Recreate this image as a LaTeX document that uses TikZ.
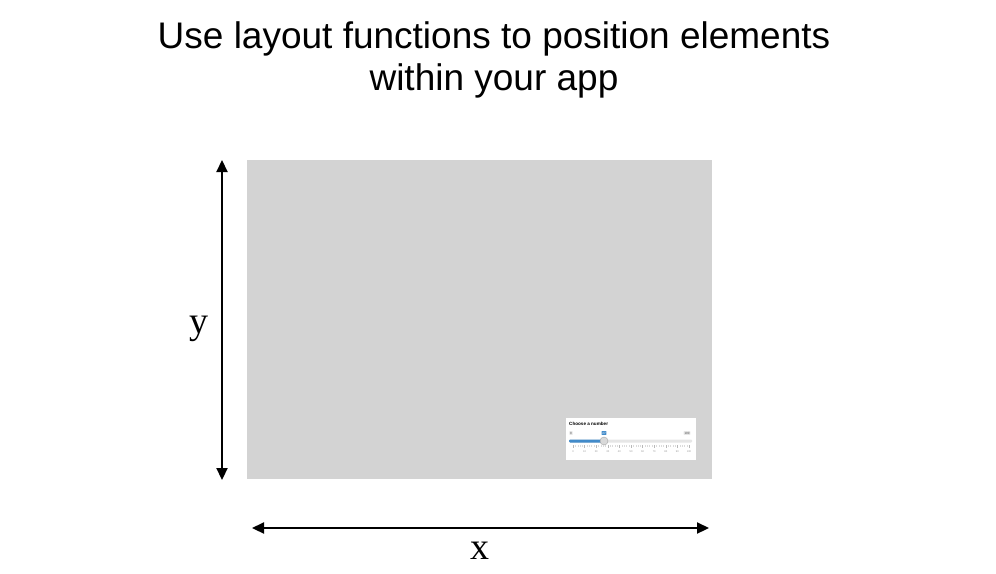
\documentclass[tikz,border=0pt]{standalone}
\usepackage{fontspec}
\setmainfont{Liberation Serif}
\newfontfamily\titlefont{Liberation Sans}
\usetikzlibrary{arrows.meta}
\definecolor{panelgray}{HTML}{D3D3D3}
\definecolor{sliderblue}{HTML}{428BCA}
\definecolor{trackgray}{HTML}{E6E6E6}
\definecolor{tickgray}{HTML}{999999}
\tikzset{
  dimarrow/.style={line width=2.2pt, {Triangle[length=12pt,width=11pt]}-{Triangle[length=12pt,width=11pt]}},
  axislabel/.style={font=\fontsize{38}{40}\selectfont, anchor=base, inner sep=0pt},
  ticklabel/.style={font=\titlefont\fontsize{2.6}{3}\selectfont, text=tickgray, anchor=center, inner sep=0pt},
  tagbox/.style={font=\titlefont\fontsize{3}{3}\selectfont, inner sep=0.8pt, anchor=center, rounded corners=0.5pt}
}
\begin{document}
\begin{tikzpicture}[x=1pt,y=-1pt]
\useasboundingbox (0,0) rectangle (996,573);
\fill[white] (0,0) rectangle (996,573);

% heading (base anchor sits on the last line)
\node[font=\titlefont\fontsize{37}{42}\selectfont, align=center, anchor=base, inner sep=0pt] (title) at (494,90)
  {Use layout functions to position elements\\within your app};

% app area
\node[fill=panelgray, minimum width=465pt, minimum height=319pt, inner sep=0pt, anchor=north west] (panel) at (247,160) {};

% slider widget
\node[fill=white, minimum width=130pt, minimum height=42pt, inner sep=0pt, anchor=north west] (widget) at (566,418) {};
\node[font=\titlefont\bfseries\fontsize{4.6}{5}\selectfont, anchor=west, inner sep=0pt] (wlabel) at (569,424) {Choose a number};
\node[tagbox, fill=trackgray, text=black!70] (minv) at (571,433) {0};
\node[tagbox, fill=trackgray, text=black!70] (maxv) at (687,433) {100};
\node[tagbox, fill=sliderblue, text=white] (curv) at (604,433) {27};
\fill[trackgray, rounded corners=1pt] (569,439.5) rectangle (692,442.5);
\fill[sliderblue, rounded corners=1pt] (569,439.5) rectangle (604,442.5);
\node[circle, fill=black!15, draw=black!35, line width=0.4pt, minimum size=8pt, inner sep=0pt] (knob) at (604,441) {};
\foreach \i [count=\k from 0] in {0,10,...,100} {
  \draw[tickgray!70, line width=0.35pt] ({573+11.6*\k},445) -- ({573+11.6*\k},448);
  \node[ticklabel] (tl\k) at ({573+11.6*\k},452) {\i};
}
\foreach \k in {0,...,9} {
  \foreach \j in {1,2,3,4} {
    \draw[tickgray!35, line width=0.25pt] ({573+11.6*\k+2.32*\j},445) -- ({573+11.6*\k+2.32*\j},446.5);
  }
}

% dimension arrows
\coordinate (ytop) at (222,160);
\coordinate (ybot) at (222,480);
\coordinate (xleft) at (252,528);
\coordinate (xright) at (709,528);
\draw[dimarrow] (ytop) -- (ybot);
\draw[dimarrow] (xleft) -- (xright);

\node[axislabel] (ylab) at (199,333) {y};
\node[axislabel] (xlab) at (480,559) {x};
\end{tikzpicture}
\end{document}
